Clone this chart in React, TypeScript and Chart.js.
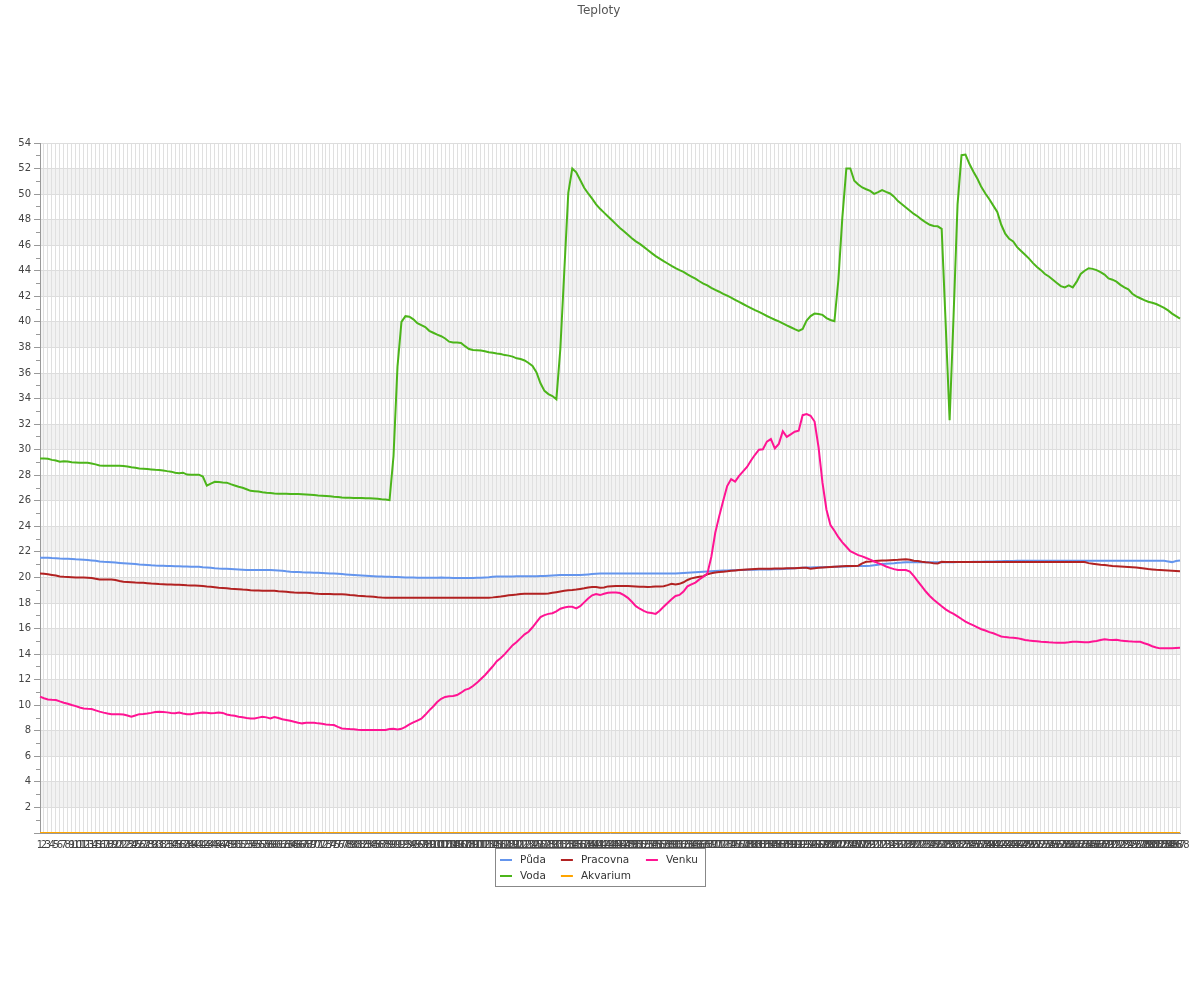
import React, { useEffect, useRef } from "react";
import { Chart, registerables } from "chart.js";

Chart.register(...registerables);

const TITLE = "Teploty";

const PUDA = [
  21.55, 21.55, 21.55, 21.52, 21.5, 21.48, 21.47, 21.46, 21.45, 21.42, 21.4, 21.38,
  21.36, 21.33, 21.3, 21.25, 21.22, 21.2, 21.18, 21.16, 21.14, 21.12, 21.1, 21.08,
  21.05, 21.02, 21.0, 20.98, 20.95, 20.93, 20.92, 20.91, 20.9, 20.9, 20.88, 20.87,
  20.86, 20.85, 20.84, 20.84, 20.84, 20.8, 20.78, 20.75, 20.72, 20.7, 20.69, 20.68,
  20.66, 20.64, 20.62, 20.6, 20.58, 20.58, 20.58, 20.58, 20.58, 20.58, 20.58, 20.57,
  20.55, 20.52, 20.48, 20.45, 20.43, 20.42, 20.4, 20.39, 20.38, 20.37, 20.36, 20.35,
  20.33, 20.31, 20.3, 20.28, 20.26, 20.24, 20.22, 20.2, 20.18, 20.16, 20.14, 20.12,
  20.1, 20.08, 20.07, 20.06, 20.05, 20.04, 20.03, 20.02, 20.0, 20.0, 19.99, 19.98,
  19.98, 19.98, 19.98, 19.98, 19.98, 20.0, 19.98, 19.97, 19.96, 19.96, 19.96, 19.96,
  19.96, 19.96, 19.97, 19.98, 20.0, 20.02, 20.05, 20.07, 20.08, 20.08, 20.08, 20.08,
  20.1, 20.1, 20.1, 20.1, 20.1, 20.1, 20.12, 20.12, 20.14, 20.16, 20.18, 20.2,
  20.2, 20.2, 20.2, 20.2, 20.2, 20.22, 20.24, 20.26, 20.28, 20.3, 20.3, 20.3,
  20.3, 20.3, 20.3, 20.3, 20.3, 20.3, 20.3, 20.3, 20.3, 20.3, 20.3, 20.3,
  20.3, 20.3, 20.3, 20.3, 20.3, 20.32, 20.34, 20.36, 20.38, 20.4, 20.42, 20.44,
  20.46, 20.48, 20.5, 20.52, 20.54, 20.55, 20.56, 20.57, 20.58, 20.58, 20.6, 20.6,
  20.6, 20.62, 20.62, 20.62, 20.63, 20.64, 20.65, 20.66, 20.68, 20.7, 20.72, 20.74,
  20.76, 20.78, 20.78, 20.8, 20.8, 20.8, 20.81, 20.82, 20.83, 20.84, 20.85, 20.86,
  20.88, 20.9, 20.9, 20.9, 20.9, 20.92, 20.96, 21.0, 21.05, 21.08, 21.1, 21.12,
  21.15, 21.16, 21.18, 21.18, 21.18, 21.18, 21.18, 21.18, 21.18, 21.18, 21.18, 21.18,
  21.18, 21.18, 21.18, 21.2, 21.2, 21.2, 21.2, 21.22, 21.22, 21.22, 21.24, 21.25,
  21.25, 21.26, 21.27, 21.28, 21.28, 21.29, 21.3, 21.31, 21.31, 21.31, 21.31, 21.31,
  21.31, 21.31, 21.31, 21.31, 21.31, 21.31, 21.31, 21.31, 21.31, 21.31, 21.31, 21.31,
  21.31, 21.31, 21.31, 21.31, 21.31, 21.31, 21.31, 21.31, 21.31, 21.31, 21.31, 21.31,
  21.31, 21.31, 21.31, 21.31, 21.31, 21.31, 21.31, 21.3, 21.25, 21.2, 21.28, 21.32,
];

const VODA = [
  29.3, 29.3, 29.28, 29.2, 29.15, 29.05, 29.1, 29.08, 29.02, 29.0, 28.98, 28.98,
  28.98, 28.92, 28.85, 28.76, 28.75, 28.75, 28.75, 28.75, 28.75, 28.72, 28.68, 28.62,
  28.58, 28.52, 28.5, 28.48, 28.45, 28.42, 28.4, 28.37, 28.32, 28.28, 28.2, 28.15,
  28.2, 28.05, 28.04, 28.04, 28.04, 27.9, 27.18, 27.35, 27.49, 27.47, 27.43, 27.42,
  27.3, 27.2, 27.1, 27.02, 26.9, 26.78, 26.75, 26.72, 26.66, 26.62, 26.6, 26.57,
  26.55, 26.55, 26.55, 26.54, 26.54, 26.53, 26.52, 26.5, 26.48, 26.45, 26.42, 26.4,
  26.38, 26.35, 26.32, 26.3, 26.25, 26.24, 26.23, 26.22, 26.22, 26.22, 26.2, 26.2,
  26.18, 26.15, 26.12, 26.1, 26.05, 29.5, 36.5, 40.0, 40.45, 40.4, 40.2, 39.9,
  39.75, 39.6, 39.3, 39.15, 39.0, 38.88, 38.7, 38.45, 38.38, 38.38, 38.35, 38.1,
  37.88, 37.8, 37.78, 37.76, 37.7, 37.62, 37.58, 37.52, 37.48, 37.4, 37.36, 37.28,
  37.15, 37.1, 36.98, 36.78, 36.55, 36.05, 35.2, 34.6, 34.35, 34.2, 33.95, 37.9,
  44.0, 50.1, 52.0, 51.7, 51.1, 50.5, 50.05, 49.65, 49.2, 48.85, 48.55, 48.25,
  47.95, 47.65, 47.35, 47.1, 46.82, 46.55, 46.3, 46.1, 45.87, 45.62, 45.38, 45.15,
  44.95, 44.75, 44.57, 44.38, 44.2, 44.05, 43.92, 43.72, 43.55, 43.38, 43.18, 43.0,
  42.86, 42.66, 42.5, 42.36, 42.2, 42.05, 41.9, 41.73, 41.56, 41.4, 41.24, 41.08,
  40.92, 40.78, 40.62, 40.46, 40.32, 40.17, 40.04, 39.88, 39.72, 39.58, 39.43, 39.3,
  39.45, 40.1, 40.45, 40.65, 40.62, 40.55, 40.3, 40.15, 40.05, 43.3, 48.2, 52.0,
  52.0, 51.05, 50.75, 50.52, 50.38, 50.25, 50.02, 50.15, 50.32, 50.18, 50.05, 49.8,
  49.45, 49.2, 48.95, 48.7, 48.45, 48.25, 48.0, 47.78, 47.6, 47.5, 47.48, 47.28,
  39.9, 32.3, 40.5, 49.2, 53.05, 53.1, 52.35, 51.75, 51.2, 50.55, 50.05, 49.6,
  49.1, 48.6, 47.6, 46.9, 46.5, 46.3, 45.85, 45.55, 45.25, 44.95, 44.6, 44.3,
  44.05, 43.75, 43.55, 43.3, 43.05, 42.8, 42.7, 42.85, 42.7, 43.15, 43.75, 44.0,
  44.2, 44.15, 44.05, 43.9, 43.7, 43.4, 43.3, 43.15, 42.9, 42.7, 42.55, 42.2,
  42.0, 41.85, 41.7, 41.58, 41.5, 41.4, 41.25, 41.1, 40.9, 40.65, 40.45, 40.25,
];

const PRACOVNA = [
  20.3, 20.28, 20.25, 20.2, 20.15, 20.08, 20.05, 20.04, 20.02, 20.0, 20.0, 19.99,
  19.98, 19.95, 19.9, 19.84, 19.83, 19.83, 19.83, 19.8, 19.72, 19.67, 19.65, 19.63,
  19.6, 19.59, 19.58, 19.55, 19.52, 19.5, 19.48, 19.47, 19.45, 19.44, 19.43, 19.42,
  19.4, 19.38, 19.37, 19.36, 19.35, 19.33, 19.3, 19.28, 19.24, 19.2, 19.18, 19.16,
  19.12, 19.1, 19.08, 19.05, 19.03, 19.0, 18.98, 18.97, 18.96, 18.96, 18.96, 18.95,
  18.92, 18.9, 18.88, 18.85, 18.82, 18.81, 18.8, 18.8, 18.78, 18.74, 18.72, 18.71,
  18.7, 18.7, 18.69, 18.68, 18.68, 18.67, 18.63, 18.6, 18.57, 18.55, 18.52, 18.5,
  18.48, 18.45, 18.43, 18.42, 18.42, 18.42, 18.42, 18.42, 18.42, 18.42, 18.42, 18.42,
  18.42, 18.42, 18.42, 18.42, 18.42, 18.42, 18.42, 18.42, 18.42, 18.42, 18.42, 18.42,
  18.42, 18.42, 18.42, 18.42, 18.42, 18.42, 18.44, 18.47, 18.5, 18.55, 18.6, 18.63,
  18.66, 18.7, 18.72, 18.72, 18.72, 18.72, 18.72, 18.72, 18.75, 18.8, 18.85, 18.9,
  18.95, 19.0, 19.02, 19.05, 19.1, 19.15, 19.22, 19.25, 19.25, 19.2, 19.22, 19.3,
  19.32, 19.33, 19.33, 19.33, 19.33, 19.32, 19.3, 19.28, 19.27, 19.25, 19.27, 19.3,
  19.3, 19.32, 19.4, 19.5, 19.45, 19.5, 19.62, 19.8, 19.93, 20.0, 20.05, 20.1,
  20.25, 20.33, 20.38, 20.42, 20.45, 20.48, 20.52, 20.55, 20.58, 20.6, 20.62, 20.64,
  20.66, 20.68, 20.68, 20.68, 20.69, 20.7, 20.7, 20.7, 20.71, 20.72, 20.72, 20.74,
  20.76, 20.75, 20.68, 20.72, 20.76, 20.78, 20.8, 20.82, 20.84, 20.86, 20.88, 20.9,
  20.9, 20.9, 20.92, 21.1, 21.23, 21.25, 21.28, 21.3, 21.32, 21.33, 21.35, 21.37,
  21.38, 21.4, 21.42, 21.38, 21.31, 21.28, 21.22, 21.18, 21.16, 21.12, 21.1, 21.22,
  21.2, 21.2, 21.2, 21.2, 21.2, 21.2, 21.2, 21.2, 21.2, 21.2, 21.2, 21.2,
  21.2, 21.2, 21.2, 21.2, 21.2, 21.2, 21.2, 21.2, 21.2, 21.2, 21.2, 21.2,
  21.2, 21.2, 21.2, 21.2, 21.2, 21.2, 21.2, 21.2, 21.2, 21.2, 21.2, 21.2,
  21.12, 21.08, 21.04, 21.0, 20.97, 20.93, 20.9, 20.88, 20.86, 20.84, 20.82, 20.8,
  20.78, 20.74, 20.7, 20.66, 20.63, 20.6, 20.58, 20.56, 20.54, 20.52, 20.5, 20.48,
];

const AKVARIUM = [
  0, 0, 0, 0, 0, 0, 0, 0, 0, 0, 0, 0,
  0, 0, 0, 0, 0, 0, 0, 0, 0, 0, 0, 0,
  0, 0, 0, 0, 0, 0, 0, 0, 0, 0, 0, 0,
  0, 0, 0, 0, 0, 0, 0, 0, 0, 0, 0, 0,
  0, 0, 0, 0, 0, 0, 0, 0, 0, 0, 0, 0,
  0, 0, 0, 0, 0, 0, 0, 0, 0, 0, 0, 0,
  0, 0, 0, 0, 0, 0, 0, 0, 0, 0, 0, 0,
  0, 0, 0, 0, 0, 0, 0, 0, 0, 0, 0, 0,
  0, 0, 0, 0, 0, 0, 0, 0, 0, 0, 0, 0,
  0, 0, 0, 0, 0, 0, 0, 0, 0, 0, 0, 0,
  0, 0, 0, 0, 0, 0, 0, 0, 0, 0, 0, 0,
  0, 0, 0, 0, 0, 0, 0, 0, 0, 0, 0, 0,
  0, 0, 0, 0, 0, 0, 0, 0, 0, 0, 0, 0,
  0, 0, 0, 0, 0, 0, 0, 0, 0, 0, 0, 0,
  0, 0, 0, 0, 0, 0, 0, 0, 0, 0, 0, 0,
  0, 0, 0, 0, 0, 0, 0, 0, 0, 0, 0, 0,
  0, 0, 0, 0, 0, 0, 0, 0, 0, 0, 0, 0,
  0, 0, 0, 0, 0, 0, 0, 0, 0, 0, 0, 0,
  0, 0, 0, 0, 0, 0, 0, 0, 0, 0, 0, 0,
  0, 0, 0, 0, 0, 0, 0, 0, 0, 0, 0, 0,
  0, 0, 0, 0, 0, 0, 0, 0, 0, 0, 0, 0,
  0, 0, 0, 0, 0, 0, 0, 0, 0, 0, 0, 0,
  0, 0, 0, 0, 0, 0, 0, 0, 0, 0, 0, 0,
  0, 0, 0, 0, 0, 0, 0, 0, 0, 0, 0, 0,
];

const VENKU = [
  10.67, 10.55, 10.45, 10.42, 10.41, 10.3, 10.2, 10.12, 10.02, 9.93, 9.82, 9.75,
  9.72, 9.7, 9.6, 9.5, 9.42, 9.35, 9.29, 9.29, 9.29, 9.28, 9.2, 9.1,
  9.2, 9.3, 9.32, 9.35, 9.4, 9.47, 9.49, 9.47, 9.44, 9.4, 9.37, 9.42,
  9.35, 9.29, 9.3, 9.35, 9.4, 9.43, 9.42, 9.38, 9.4, 9.43, 9.4, 9.28,
  9.22, 9.17, 9.1, 9.05, 9.0, 8.97, 8.96, 9.03, 9.1, 9.05, 8.97, 9.08,
  9.0, 8.9, 8.85, 8.78, 8.7, 8.63, 8.58, 8.62, 8.63, 8.63, 8.58, 8.55,
  8.5, 8.47, 8.45, 8.3, 8.18, 8.15, 8.13, 8.12, 8.08, 8.07, 8.06, 8.06,
  8.06, 8.06, 8.06, 8.07, 8.14, 8.16, 8.1, 8.15, 8.3, 8.5, 8.65, 8.8,
  8.95, 9.25, 9.6, 9.9, 10.25, 10.5, 10.65, 10.7, 10.72, 10.8, 10.98, 11.2,
  11.3, 11.5, 11.75, 12.05, 12.35, 12.7, 13.05, 13.45, 13.7, 14.0, 14.35, 14.7,
  14.95, 15.25, 15.55, 15.75, 16.1, 16.5, 16.9, 17.05, 17.15, 17.2, 17.35, 17.55,
  17.65, 17.7, 17.7, 17.58, 17.75, 18.05, 18.35, 18.6, 18.7, 18.62, 18.72, 18.8,
  18.82, 18.82, 18.78, 18.62, 18.4, 18.1, 17.75, 17.55, 17.38, 17.25, 17.22, 17.15,
  17.4, 17.7, 18.0, 18.3, 18.55, 18.63, 18.9, 19.3, 19.45, 19.6, 19.85, 20.05,
  20.3, 21.6, 23.5, 24.8, 26.0, 27.15, 27.7, 27.5, 27.95, 28.3, 28.65, 29.15,
  29.6, 30.0, 30.03, 30.63, 30.83, 30.1, 30.45, 31.45, 31.0, 31.2, 31.4, 31.49,
  32.7, 32.78, 32.65, 32.2, 30.2, 27.4, 25.3, 24.1, 23.65, 23.15, 22.75, 22.4,
  22.05, 21.9, 21.75, 21.65, 21.52, 21.4, 21.25, 21.12, 21.0, 20.86, 20.75, 20.65,
  20.58, 20.58, 20.58, 20.45, 20.1, 19.7, 19.3, 18.9, 18.55, 18.25, 18.0, 17.75,
  17.5, 17.3, 17.15, 16.95, 16.75, 16.55, 16.38, 16.25, 16.1, 15.95, 15.85, 15.72,
  15.63, 15.5, 15.38, 15.33, 15.3, 15.28, 15.25, 15.18, 15.1, 15.06, 15.03, 15.0,
  14.97, 14.95, 14.92, 14.9, 14.89, 14.89, 14.89, 14.92, 14.97, 14.97, 14.95, 14.93,
  14.92, 14.98, 15.03, 15.1, 15.16, 15.12, 15.1, 15.12, 15.06, 15.03, 15.0, 14.98,
  14.97, 14.97, 14.85, 14.75, 14.62, 14.52, 14.45, 14.45, 14.45, 14.45, 14.48, 14.5,
];

const LABELS = Array.from({ length: PUDA.length }, (_, i) => String(i + 1));

const Y_MIN = 0;
const Y_MAX = 54;

const LEGEND_ROWS = [
  ["Půda", "Pracovna", "Venku"],
  ["Voda", "Akvarium"],
];

const FONT = "'DejaVu Sans', 'Liberation Sans', sans-serif";

export default function App() {
  const ref = useRef<HTMLCanvasElement | null>(null);

  useEffect(() => {
    if (!ref.current) return;
    Chart.defaults.font.family = FONT;

    const bandsPlugin = {
      id: "bands",
      beforeDraw(chart: any) {
        const { ctx, chartArea: a, scales } = chart;
        const y = scales.y;
        ctx.save();
        ctx.fillStyle = "#f2f2f2";
        for (let v = Y_MIN + 2; v < Y_MAX - 2; v += 4) {
          const top = y.getPixelForValue(v + 2);
          const bot = y.getPixelForValue(v);
          ctx.fillRect(a.left, top, a.right - a.left, bot - top);
        }
        ctx.restore();
      },
    };

    const decorPlugin = {
      id: "decor",
      afterDraw(chart: any) {
        const { ctx, chartArea: a, scales } = chart;
        const y = scales.y;
        ctx.save();
        // y tick marks
        ctx.strokeStyle = "#999";
        ctx.lineWidth = 1;
        for (let v = Y_MIN; v <= Y_MAX; v += 1) {
          const py = Math.round(y.getPixelForValue(v) - 0.5) + 0.5;
          const len = v % 2 === 0 ? 6 : 4;
          ctx.beginPath();
          ctx.moveTo(a.left - len, py);
          ctx.lineTo(a.left, py);
          ctx.stroke();
        }
        // title
        ctx.fillStyle = "#555";
        ctx.font = `12px ${FONT}`;
        ctx.textAlign = "center";
        ctx.textBaseline = "middle";
        ctx.fillText(TITLE, chart.width / 2 - 1, 11);

        // legend
        const datasets = chart.data.datasets;
        const colorOf = (name: string) => {
          const d = datasets.find((ds: any) => ds.label === name);
          return d ? d.borderColor : "#000";
        };
        ctx.font = `10.5px ${FONT}`;
        const sample = 12;
        const gapText = 8;
        const colGap = 15;
        const padL = 5;
        const padR = 7;
        const rowH = 16;
        const nCols = Math.max(...LEGEND_ROWS.map((r) => r.length));
        const colW: number[] = [];
        for (let c = 0; c < nCols; c++) {
          let w = 0;
          LEGEND_ROWS.forEach((r) => {
            if (r[c]) w = Math.max(w, ctx.measureText(r[c]).width);
          });
          colW.push(sample + gapText + w);
        }
        const total = padL + padR + colW.reduce((s, w) => s + w, 0) + colGap * (nCols - 1);
        const boxLeft = Math.round(chart.width / 2 - total / 2);
        const boxTop = Math.round(a.bottom + 15);
        const boxH = LEGEND_ROWS.length * rowH + 6;
        ctx.strokeStyle = "#888";
        ctx.lineWidth = 1;
        ctx.strokeRect(boxLeft + 0.5, boxTop + 0.5, Math.round(total), boxH);
        ctx.textAlign = "left";
        ctx.textBaseline = "middle";
        LEGEND_ROWS.forEach((row, r) => {
          const cy = boxTop + 12 + r * rowH;
          let x = boxLeft + padL;
          row.forEach((name, c) => {
            ctx.strokeStyle = colorOf(name);
            ctx.lineWidth = 2;
            ctx.beginPath();
            ctx.moveTo(x, cy);
            ctx.lineTo(x + sample, cy);
            ctx.stroke();
            ctx.fillStyle = "#333";
            ctx.fillText(name, x + sample + gapText, cy);
            x += colW[c] + colGap;
          });
        });
        ctx.restore();
      },
    };

    const chart = new Chart(ref.current, {
      type: "line",
      data: {
        labels: LABELS,
        datasets: [
          { label: "Venku", data: VENKU, borderColor: "#ff1493", backgroundColor: "#ff1493" },
          { label: "Pracovna", data: PRACOVNA, borderColor: "#b22222", backgroundColor: "#b22222" },
          { label: "Půda", data: PUDA, borderColor: "#6495ed", backgroundColor: "#6495ed" },
          { label: "Voda", data: VODA, borderColor: "#4cb51a", backgroundColor: "#4cb51a" },
          { label: "Akvarium", data: AKVARIUM, borderColor: "#ffa500", backgroundColor: "#ffa500" },
        ],
      },
      options: {
        animation: false,
        responsive: true,
        maintainAspectRatio: false,
        layout: { padding: { top: 143, right: 20, bottom: 147, left: 0 } },
        elements: {
          point: { radius: 0, hoverRadius: 0 },
          line: { tension: 0, borderWidth: 2, fill: false },
        },
        plugins: {
          legend: { display: false },
          title: { display: false },
          tooltip: { enabled: false },
        },
        scales: {
          x: {
            type: "category",
            offset: false,
            grid: { color: "#e0e0e0", lineWidth: 1, drawTicks: false },
            border: { color: "#999" },
            ticks: {
              autoSkip: false,
              maxRotation: 0,
              minRotation: 0,
              padding: 6,
              color: "#444",
              font: { size: 10, family: FONT },
            },
            afterFit: (s: any) => {
              s.height = 20;
            },
          },
          y: {
            min: Y_MIN,
            max: Y_MAX,
            grid: {
              color: (c: any) =>
                c.tick && c.tick.value % 2 === 0 ? "#dddddd" : "rgba(0,0,0,0)",
              lineWidth: 1,
              drawTicks: false,
            },
            border: { color: "#999" },
            ticks: {
              stepSize: 1,
              autoSkip: false,
              padding: 9,
              color: "#444",
              font: { size: 10, family: FONT },
              callback: (v: any) => (v % 2 === 0 && v !== 0 ? String(v) : ""),
            },
            afterFit: (s: any) => {
              s.width = 40;
            },
          },
        },
      },
      plugins: [bandsPlugin, decorPlugin],
    });

    return () => chart.destroy();
  }, []);

  return (
    <div style={{ position: "absolute", left: 0, top: 0, width: 1200, height: 1000 }}>
      <canvas ref={ref} />
    </div>
  );
}
